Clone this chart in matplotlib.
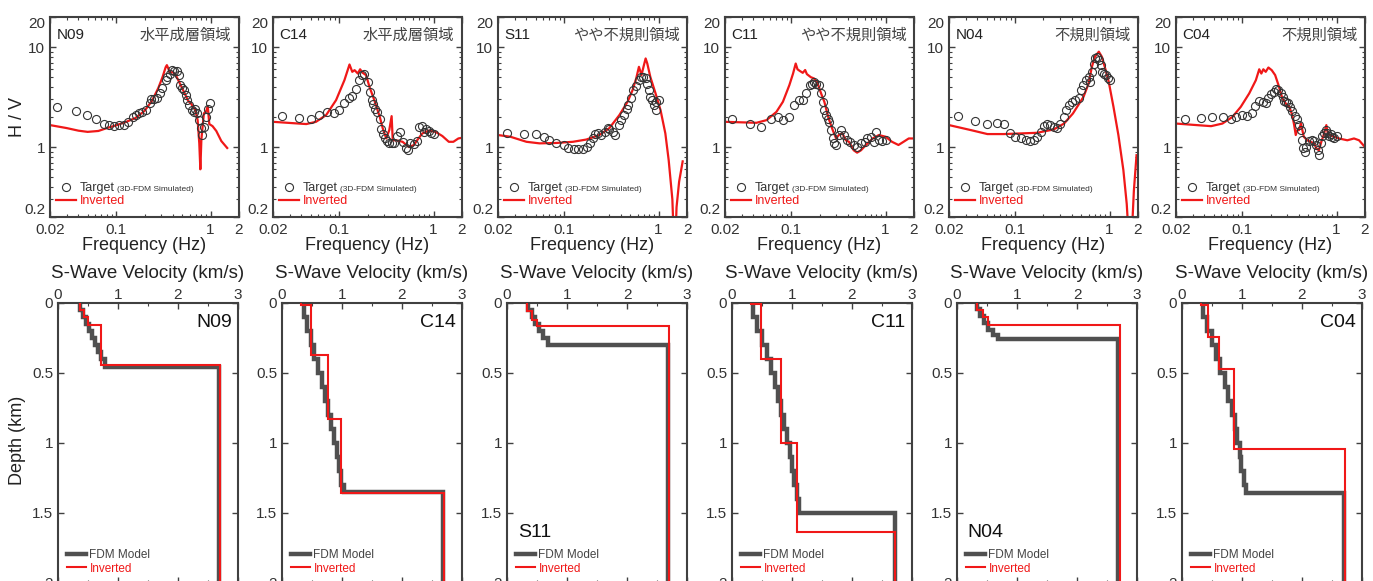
import numpy as np
import matplotlib.pyplot as plt
from matplotlib.lines import Line2D
from matplotlib.ticker import NullFormatter, MultipleLocator, FixedLocator

plt.rcParams['font.family'] = ['Liberation Sans', 'DejaVu Sans']

RED = '#f01818'
GRAY = '#505050'
DARK = '#333333'

stations = ['N09', 'C14', 'S11', 'C11', 'N04', 'C04']
regions = ['水平成層領域', '水平成層領域', 'やや不規則領域', 'やや不規則領域', '不規則領域', '不規則領域']

# ---- H/V : inverted (red line) ----
n09_inv_f = [0.02, 0.03, 0.04, 0.05, 0.065, 0.08, 0.1, 0.13, 0.16, 0.2, 0.24, 0.28, 0.31, 0.335, 0.345,
             0.355, 0.37, 0.4, 0.43, 0.47, 0.52, 0.58, 0.62, 0.69, 0.73, 0.76, 0.78, 0.80, 0.85, 0.9,
             0.935, 0.97, 1.05, 1.15, 1.3, 1.5]
n09_inv_hv = [1.66, 1.55, 1.46, 1.42, 1.45, 1.55, 1.65, 1.8, 1.95, 2.3, 2.9, 3.9, 5.0, 6.3, 6.6,
              6.2, 5.6, 5.6, 5.2, 4.4, 3.6, 2.9, 2.73, 2.34, 1.86, 1.09, 0.6, 1.2, 2.17, 2.3,
              2.53, 1.7, 1.62, 1.45, 1.15, 0.98]
c14_inv_f = [0.02, 0.045, 0.057, 0.073, 0.093, 0.114, 0.129, 0.138, 0.146, 0.158, 0.167, 0.178, 0.193,
             0.21, 0.236, 0.27, 0.29, 0.316, 0.34, 0.36, 0.37, 0.4, 0.47, 0.55, 0.62, 0.67, 0.76,
             0.89, 1.05, 1.24, 1.45, 1.62, 1.83, 2.0]
c14_inv_hv = [1.79, 1.7, 1.79, 2.09, 2.95, 4.67, 6.7, 5.66, 5.88, 5.44, 6.0, 5.53, 5.25,
              4.0, 2.95, 2.0, 1.54, 1.22, 1.48, 2.04, 1.17, 1.17, 1.13, 1.0, 1.05, 1.17, 1.37,
              1.46, 1.42, 1.29, 1.13, 1.13, 1.22, 1.24]
s11_inv_f = [0.02, 0.027, 0.04, 0.055, 0.083, 0.124, 0.172, 0.236, 0.3, 0.385, 0.47, 0.53, 0.58, 0.62,
             0.66, 0.7, 0.73, 0.76, 0.82, 0.93, 1.05, 1.18, 1.28, 1.4, 1.46, 1.5, 1.55, 1.65, 1.8]
s11_inv_hv = [1.32, 1.27, 1.13, 1.09, 1.1, 1.13, 1.19, 1.32, 1.54, 2.09, 2.84, 3.7, 4.86, 6.35,
              5.25, 6.6, 7.7, 6.85, 5.0, 3.44, 2.34, 1.37, 0.74, 0.3, 0.1, 0.1, 0.25, 0.45, 0.72]
c11_inv_f = [0.02, 0.043, 0.055, 0.07, 0.082, 0.096, 0.105, 0.112, 0.117, 0.123, 0.133, 0.141, 0.147,
             0.162, 0.175, 0.19, 0.208, 0.225, 0.25, 0.276, 0.3, 0.32, 0.35, 0.38, 0.41, 0.46, 0.5,
             0.55, 0.62, 0.73, 0.85, 1.0, 1.17, 1.37, 1.55, 1.76, 2.0]
c11_inv_hv = [1.79, 1.75, 1.86, 2.25, 2.84, 4.17, 5.44, 6.85, 6.0, 5.8, 5.53, 5.9, 5.37,
              5.0, 4.86, 4.4, 3.44, 2.84, 1.93, 1.48, 1.22, 1.32, 1.37, 1.17, 1.13, 0.93, 0.88,
              0.93, 1.05, 1.22, 1.32, 1.27, 1.13, 1.05, 1.13, 1.22, 1.22]
n04_inv_f = [0.02, 0.034, 0.051, 0.076, 0.115, 0.17, 0.256, 0.33, 0.41, 0.53, 0.6, 0.65, 0.7, 0.77,
             0.83, 0.9, 0.98, 1.1, 1.24, 1.4, 1.52, 1.6, 1.71, 1.81, 1.93]
n04_inv_hv = [1.66, 1.48, 1.35, 1.35, 1.37, 1.39, 1.5, 1.72, 2.17, 3.18, 4.32, 6.35, 8.0, 9.0,
              8.0, 6.1, 4.5, 2.53, 1.32, 0.59, 0.27, 0.12, 0.12, 0.37, 0.83]
c04_inv_f = [0.02, 0.033, 0.047, 0.062, 0.079, 0.097, 0.119, 0.14, 0.152, 0.16, 0.168, 0.178, 0.19,
             0.206, 0.224, 0.243, 0.267, 0.29, 0.316, 0.34, 0.356, 0.37, 0.385, 0.4, 0.42, 0.45,
             0.49, 0.53, 0.58, 0.61, 0.65, 0.69, 0.73, 0.78, 0.81, 0.9, 1.06, 1.3, 1.53, 1.73, 2.0]
c04_inv_hv = [1.72, 1.66, 1.62, 1.72, 2.0, 2.53, 3.44, 4.67, 6.0, 5.44, 6.0, 5.66, 6.25,
              5.88, 5.25, 4.17, 3.07, 2.73, 2.53, 2.09, 1.66, 1.32, 1.48, 1.48, 1.72, 1.27,
              1.17, 1.13, 1.09, 0.97, 0.93, 1.13, 1.32, 1.66, 1.35, 1.29, 1.22, 1.17, 1.22, 1.17, 1.0]

# ---- H/V : target (3D-FDM simulated, circles) ----
n09_tgt_f = [0.024, 0.0375, 0.049, 0.062, 0.074, 0.085, 0.096, 0.107, 0.12, 0.133, 0.15, 0.163, 0.177,
             0.19, 0.208, 0.226, 0.235, 0.25, 0.27, 0.29, 0.31, 0.335, 0.35, 0.37, 0.39, 0.41, 0.44,
             0.46, 0.47, 0.50, 0.53, 0.55, 0.57, 0.59, 0.63, 0.67, 0.69, 0.72, 0.76, 0.79, 0.82,
             0.85, 0.89, 0.93, 0.98]
n09_tgt_hv = [2.53, 2.3, 2.09, 1.89, 1.72, 1.66, 1.62, 1.66, 1.66, 1.79, 2.0, 2.09, 2.2,
              2.25, 2.34, 2.73, 3.0, 3.0, 3.07, 3.5, 3.86, 4.67, 5.0, 5.44, 5.9, 5.77, 5.77,
              5.25, 4.17, 3.86, 3.7, 3.31, 2.95, 2.63, 2.34, 2.25, 2.43, 2.17, 1.86, 1.54, 1.32,
              1.6, 2.0, 2.43, 2.73]
c14_tgt_f = [0.025, 0.038, 0.05, 0.062, 0.075, 0.088, 0.101, 0.114, 0.127, 0.138, 0.152, 0.164, 0.175,
             0.185, 0.2, 0.213, 0.224, 0.23, 0.24, 0.25, 0.27, 0.28, 0.29, 0.305, 0.32, 0.34, 0.36,
             0.38, 0.41, 0.44, 0.47, 0.51, 0.54, 0.57, 0.62, 0.67, 0.71, 0.75, 0.79, 0.83, 0.89,
             0.95, 1.0]
c14_tgt_hv = [2.06, 1.97, 1.92, 2.1, 2.27, 2.17, 2.34, 2.73, 3.07, 3.24, 3.77, 4.67, 5.25,
              5.44, 4.5, 3.58, 2.95, 2.67, 2.43, 2.25, 1.93, 1.51, 1.35, 1.22, 1.15, 1.1, 1.09,
              1.09, 1.29, 1.42, 1.13, 0.97, 0.93, 1.1, 1.07, 1.16, 1.6, 1.62, 1.42, 1.5, 1.46,
              1.39, 1.35]
s11_tgt_f = [0.025, 0.038, 0.05, 0.062, 0.07, 0.083, 0.1, 0.11, 0.127, 0.14, 0.157, 0.174, 0.19,
             0.2, 0.215, 0.227, 0.246, 0.27, 0.29, 0.3, 0.33, 0.35, 0.38, 0.4, 0.43, 0.46, 0.48,
             0.51, 0.54, 0.58, 0.62, 0.65, 0.69, 0.73, 0.76, 0.79, 0.82, 0.85, 0.89, 0.93, 0.95, 1.0]
s11_tgt_hv = [1.39, 1.35, 1.35, 1.27, 1.17, 1.11, 1.05, 0.97, 0.95, 0.95, 0.95, 1.0, 1.1,
              1.22, 1.35, 1.39, 1.32, 1.42, 1.57, 1.5, 1.42, 1.32, 1.66, 1.86, 2.09, 2.38, 2.63,
              3.07, 3.7, 4.07, 4.67, 5.0, 5.0, 4.86, 4.32, 3.7, 3.18, 2.95, 2.63, 2.34, 2.84, 2.95]
c11_tgt_f = [0.024, 0.037, 0.048, 0.061, 0.072, 0.083, 0.096, 0.108, 0.12, 0.133, 0.145, 0.157, 0.167,
             0.176, 0.185, 0.196, 0.208, 0.216, 0.225, 0.234, 0.244, 0.254, 0.264, 0.275, 0.287, 0.298,
             0.32, 0.34, 0.36, 0.39, 0.42, 0.46, 0.5, 0.55, 0.6, 0.64, 0.7, 0.75, 0.8, 0.85, 0.92, 1.0]
c11_tgt_hv = [1.89, 1.7, 1.6, 1.93, 2.0, 1.86, 2.0, 2.63, 2.95, 2.95, 3.5, 4.17, 4.32,
              4.43, 4.27, 4.17, 3.5, 2.84, 2.34, 2.09, 1.93, 1.79, 1.48, 1.22, 1.1, 1.05,
              1.32, 1.48, 1.32, 1.17, 1.13, 1.05, 1.0, 1.09, 1.13, 1.22, 1.27, 1.13, 1.42, 1.17, 1.16, 1.19]
n04_tgt_f = [0.025, 0.038, 0.05, 0.064, 0.076, 0.088, 0.1, 0.115, 0.13, 0.143, 0.158, 0.17, 0.19,
             0.204, 0.22, 0.235, 0.256, 0.28, 0.3, 0.33, 0.35, 0.37, 0.4, 0.43, 0.47, 0.5, 0.53,
             0.56, 0.6, 0.62, 0.65, 0.68, 0.71, 0.74, 0.78, 0.81, 0.84, 0.88, 0.92, 0.96, 1.01]
n04_tgt_hv = [2.04, 1.82, 1.7, 1.76, 1.69, 1.39, 1.27, 1.22, 1.17, 1.16, 1.17, 1.27, 1.42,
              1.62, 1.72, 1.66, 1.6, 1.54, 1.72, 2.0, 2.34, 2.63, 2.84, 2.95, 3.07, 3.7, 4.17,
              4.67, 5.0, 4.5, 5.66, 6.85, 7.7, 8.0, 7.4, 6.6, 5.66, 5.44, 5.25, 4.86, 4.67]
c04_tgt_f = [0.025, 0.037, 0.048, 0.063, 0.076, 0.087, 0.1, 0.114, 0.126, 0.138, 0.152, 0.165, 0.179,
             0.19, 0.2, 0.218, 0.23, 0.243, 0.256, 0.27, 0.28, 0.295, 0.31, 0.32, 0.34, 0.36, 0.385,
             0.4, 0.42, 0.43, 0.44, 0.46, 0.48, 0.51, 0.55, 0.58, 0.6, 0.63, 0.65, 0.68, 0.71, 0.73,
             0.77, 0.8, 0.83, 0.87, 0.9, 0.94, 1.0]
c04_tgt_hv = [1.89, 1.97, 2.0, 1.98, 1.89, 1.98, 2.09, 2.04, 2.17, 2.57, 2.9, 2.84, 2.73,
              3.07, 3.36, 3.58, 3.8, 3.7, 3.44, 3.14, 2.9, 2.84, 2.73, 2.49, 2.3, 2.04, 1.93,
              1.66, 1.48, 1.17, 0.97, 0.9, 1.0, 1.16, 1.19, 1.16, 1.05, 0.93, 0.83, 1.09, 1.29, 1.39,
              1.48, 1.37, 1.29, 1.35, 1.27, 1.22, 1.29]

# ---- Vs profiles: layer top depth (km) and velocity (km/s) ----
n09_fdm_top = [0, 0.05, 0.1, 0.15, 0.2, 0.25, 0.3, 0.35, 0.4, 0.455]
n09_fdm_vs = [0.37, 0.41, 0.46, 0.52, 0.57, 0.62, 0.67, 0.72, 0.78, 2.68]
n09_inv_top = [0, 0.05, 0.1, 0.16, 0.445]
n09_inv_vs = [0.36, 0.43, 0.5, 0.72, 2.7]
c14_fdm_top = [0, 0.1, 0.2, 0.3, 0.4, 0.5, 0.6, 0.7, 0.8, 0.9, 1.0, 1.1, 1.2, 1.3, 1.35]
c14_fdm_vs = [0.36, 0.42, 0.48, 0.54, 0.60, 0.66, 0.71, 0.76, 0.81, 0.86, 0.91, 0.95, 0.99, 1.04, 2.68]
c14_inv_top = [0, 0.015, 0.37, 0.83, 1.36]
c14_inv_vs = [0.31, 0.49, 0.77, 0.99, 2.7]
s11_fdm_top = [0, 0.05, 0.1, 0.15, 0.2, 0.25, 0.3]
s11_fdm_vs = [0.35, 0.41, 0.47, 0.53, 0.6, 0.68, 2.69]
s11_inv_top = [0, 0.06, 0.12, 0.165]
s11_inv_vs = [0.34, 0.41, 0.50, 2.7]
c11_fdm_top = [0, 0.1, 0.2, 0.3, 0.4, 0.5, 0.6, 0.7, 0.8, 0.9, 1.0, 1.1, 1.2, 1.3, 1.4, 1.5]
c11_fdm_vs = [0.35, 0.42, 0.5, 0.58, 0.65, 0.72, 0.77, 0.82, 0.87, 0.92, 0.96, 1.0, 1.04, 1.08, 1.12, 2.72]
c11_inv_top = [0, 0.01, 0.40, 1.0, 1.635]
c11_inv_vs = [0.32, 0.49, 0.81, 1.08, 2.71]
n04_fdm_top = [0, 0.045, 0.09, 0.14, 0.19, 0.23, 0.255]
n04_fdm_vs = [0.33, 0.39, 0.45, 0.52, 0.6, 0.68, 2.68]
n04_inv_top = [0, 0.05, 0.1, 0.155]
n04_inv_vs = [0.33, 0.43, 0.51, 2.71]
c04_fdm_top = [0, 0.1, 0.2, 0.3, 0.4, 0.5, 0.6, 0.7, 0.8, 0.9, 1.0, 1.1, 1.2, 1.3, 1.36]
c04_fdm_vs = [0.35, 0.42, 0.5, 0.57, 0.64, 0.71, 0.77, 0.83, 0.88, 0.92, 0.96, 0.99, 1.03, 1.06, 2.7]
c04_inv_top = [0, 0.015, 0.24, 0.47, 1.045]
c04_inv_vs = [0.32, 0.44, 0.62, 0.86, 2.72]

hv_inv = {'N09': (n09_inv_f, n09_inv_hv), 'C14': (c14_inv_f, c14_inv_hv), 'S11': (s11_inv_f, s11_inv_hv),
          'C11': (c11_inv_f, c11_inv_hv), 'N04': (n04_inv_f, n04_inv_hv), 'C04': (c04_inv_f, c04_inv_hv)}
hv_tgt = {'N09': (n09_tgt_f, n09_tgt_hv), 'C14': (c14_tgt_f, c14_tgt_hv), 'S11': (s11_tgt_f, s11_tgt_hv),
          'C11': (c11_tgt_f, c11_tgt_hv), 'N04': (n04_tgt_f, n04_tgt_hv), 'C04': (c04_tgt_f, c04_tgt_hv)}
vs_fdm = {'N09': (n09_fdm_top, n09_fdm_vs), 'C14': (c14_fdm_top, c14_fdm_vs), 'S11': (s11_fdm_top, s11_fdm_vs),
          'C11': (c11_fdm_top, c11_fdm_vs), 'N04': (n04_fdm_top, n04_fdm_vs), 'C04': (c04_fdm_top, c04_fdm_vs)}
vs_inv = {'N09': (n09_inv_top, n09_inv_vs), 'C14': (c14_inv_top, c14_inv_vs), 'S11': (s11_inv_top, s11_inv_vs),
          'C11': (c11_inv_top, c11_inv_vs), 'N04': (n04_inv_top, n04_inv_vs), 'C04': (c04_inv_top, c04_inv_vs)}
label_low = ['S11', 'N04']   # station name drawn at lower left in the Vs panel

W, H = 1373, 581
top_left = [50, 273, 498, 725, 949, 1176]
bot_left = [58, 282, 507, 732, 957, 1182]
MAXDEPTH = 2.5

fig = plt.figure(figsize=(W / 100, H / 100), dpi=100)


def style_axes(ax):
    for s in ax.spines.values():
        s.set_color('#404040')
        s.set_linewidth(1.5)
    ax.tick_params(which='both', direction='in', top=True, right=True, colors='#404040',
                   labelcolor=DARK, labelsize=11)
    ax.tick_params(which='major', length=4, width=1)
    ax.tick_params(which='minor', length=2.5, width=0.8)


for i, st in enumerate(stations):
    # H/V panel
    ax = fig.add_axes([top_left[i] / W, 1 - 217 / H, 189 / W, 200 / H])
    ax.set_xscale('log')
    ax.set_yscale('log')
    rf, rv = hv_inv[st]
    tf, tv = hv_tgt[st]
    h2, = ax.plot(rf, rv, color=RED, lw=1.6, zorder=2)
    h1, = ax.plot(tf, tv, 'o', mfc='none', mec=DARK, ms=5.8, mew=0.8, zorder=3)
    ax.set_xlim(0.02, 2)
    ax.set_ylim(0.2, 20)
    ax.set_xticks([0.02, 0.1, 1, 2], ['0.02', '0.1', '1', '2'])
    ax.set_yticks([0.2, 1, 10, 20], ['0.2', '1', '10', '20'])
    ax.xaxis.set_minor_formatter(NullFormatter())
    ax.yaxis.set_minor_formatter(NullFormatter())
    style_axes(ax)
    ylabs = ax.get_yticklabels()
    ylabs[0].set_va('bottom')
    ylabs[-1].set_va('top')
    ax.tick_params(axis='x', pad=4)
    ax.set_xlabel('Frequency (Hz)', fontsize=13, color='#222222', labelpad=0)
    ax.text(0.035, 0.91, st, transform=ax.transAxes, fontsize=11, color='#222222', va='center')
    ax.text(0.96, 0.91, regions[i], transform=ax.transAxes, fontsize=11, color='#444444',
            va='center', ha='right', family=['Noto Sans CJK JP', 'DejaVu Sans'])
    leg = ax.legend([h1, h2], ['Target', 'Inverted'], loc='lower left', bbox_to_anchor=(0.03, 0.05),
                    frameon=False, fontsize=9, labelcolor=[DARK, RED], handlelength=1.6,
                    handletextpad=0.3, borderpad=0, borderaxespad=0, labelspacing=0.05, numpoints=1)
    ax.annotate('(3D-FDM Simulated)', xy=(1, 0.12), xycoords=leg.get_texts()[0], xytext=(2, 0),
                textcoords='offset points', fontsize=6, color=DARK, va='bottom', zorder=6)

    # Vs profile panel
    bx = fig.add_axes([bot_left[i] / W, 1 - 583 / H, 180 / W, 280 / H])
    ft, fv = vs_fdm[st]
    it, iv = vs_inv[st]
    bx.stairs(fv, list(ft) + [MAXDEPTH], orientation='horizontal', baseline=None,
              color=GRAY, lw=3.2, zorder=2)
    bx.stairs(iv, list(it) + [MAXDEPTH], orientation='horizontal', baseline=None,
              color=RED, lw=1.5, zorder=3)
    bx.set_xlim(0, 3)
    bx.set_ylim(2, 0)
    bx.xaxis.tick_top()
    bx.xaxis.set_label_position('top')
    bx.set_xticks([0, 1, 2, 3], ['0', '1', '2', '3'])
    bx.xaxis.set_minor_locator(MultipleLocator(0.5))
    bx.set_yticks([0, 0.5, 1, 1.5, 2], ['0', '0.5', '1', '1.5', '2'])
    style_axes(bx)
    bx.tick_params(axis='x', which='both', bottom=True, pad=1)
    bx.set_xlabel('S-Wave Velocity (km/s)', fontsize=13.5, color='#222222', labelpad=7)
    if st in label_low:
        bx.text(0.06, 0.18, st, transform=bx.transAxes, fontsize=14, color='#111111', va='center')
    else:
        bx.text(0.965, 0.93, st, transform=bx.transAxes, fontsize=14, color='#111111',
                va='center', ha='right')
    proxies = [Line2D([], [], color=GRAY, lw=3.2), Line2D([], [], color=RED, lw=1.5)]
    bx.legend(proxies, ['FDM Model', 'Inverted'], loc='lower left', bbox_to_anchor=(0.05, 0.03),
              frameon=False, fontsize=8.5, labelcolor=['#444444', RED], handlelength=1.6,
              handletextpad=0.3, borderpad=0, borderaxespad=0, labelspacing=0.15)

fig.text(18 / W, 1 - 117 / H, 'H / V', rotation=90, ha='center', va='center', fontsize=13, color='#222222')
fig.text(18 / W, 1 - 440 / H, 'Depth (km)', rotation=90, ha='center', va='center', fontsize=13,
         color='#222222')

fig.savefig('out.png', dpi=100)
